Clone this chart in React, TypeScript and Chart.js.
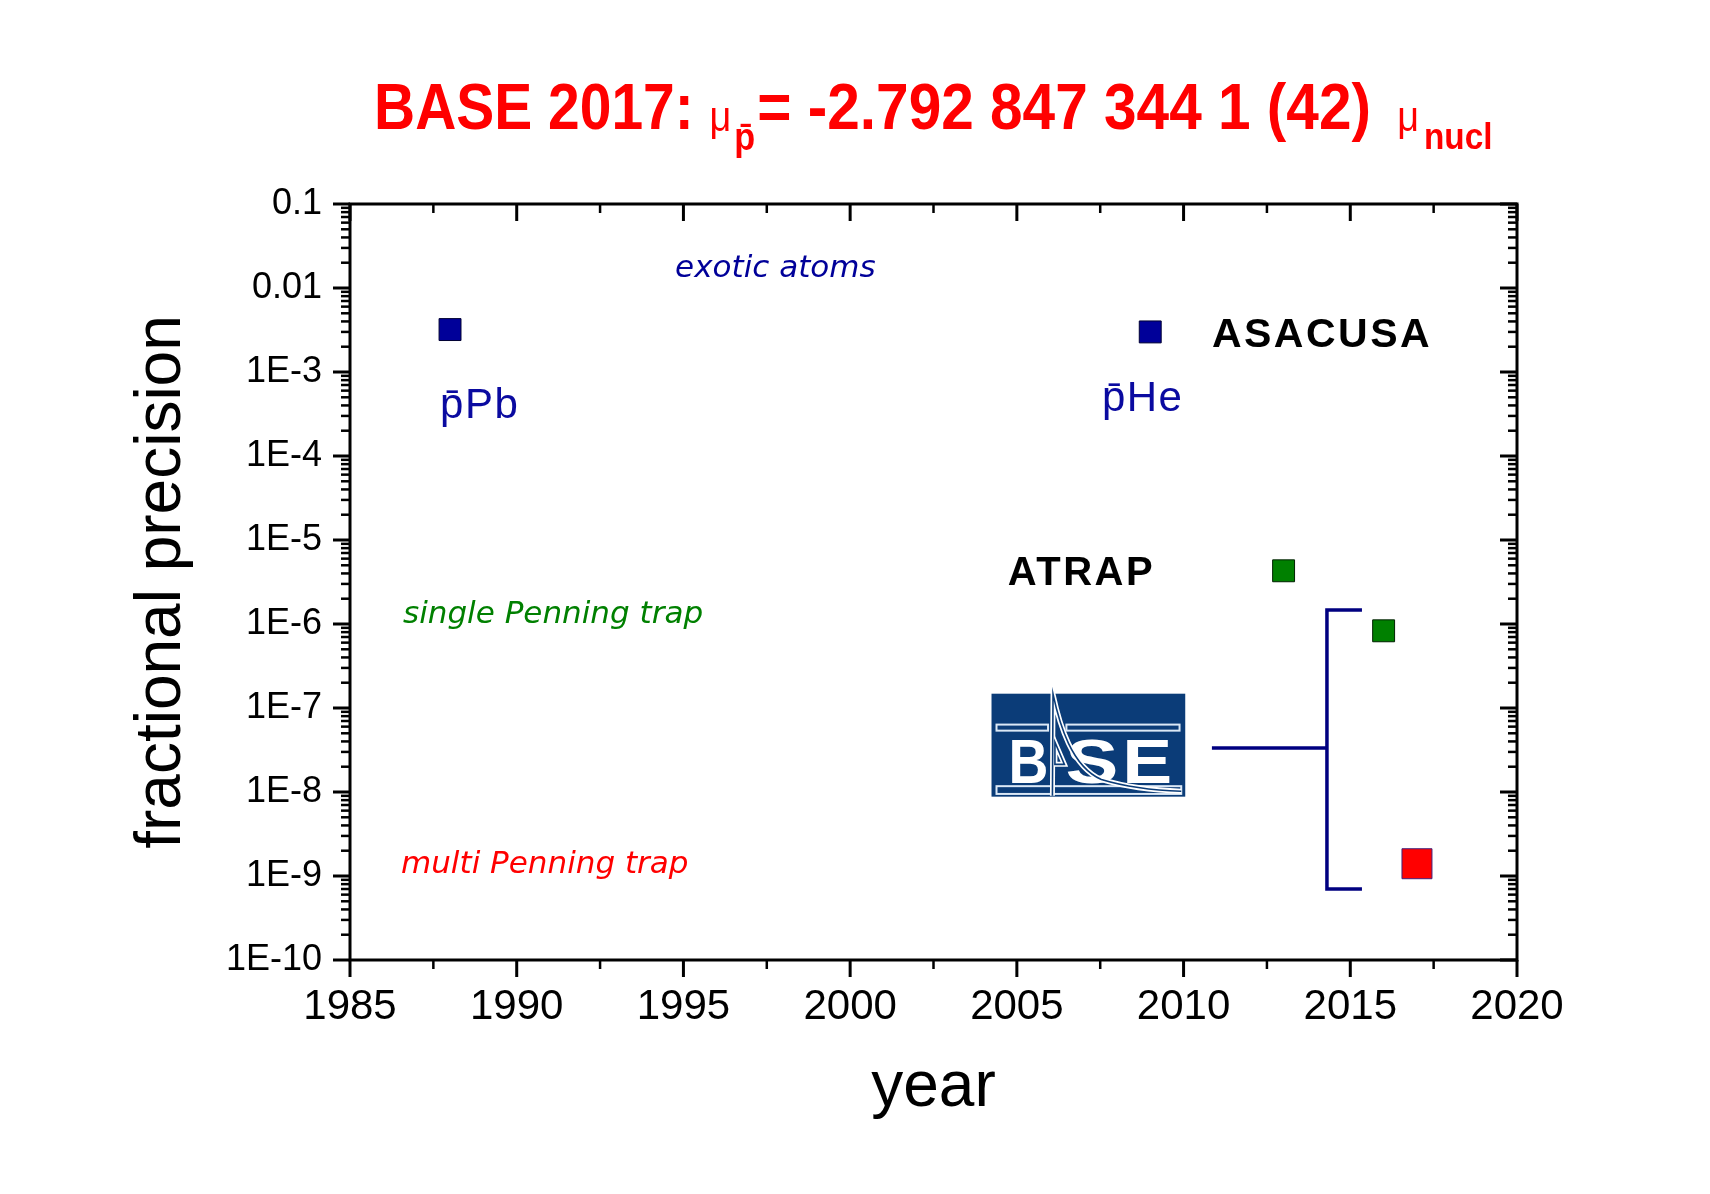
import { useEffect, useRef } from "react"
import { Chart, registerables } from "chart.js"

Chart.register(...registerables)

// axis ticks
const xTicks = [1985, 1990, 1995, 2000, 2005, 2010, 2015, 2020]
const yTicks = [1e-10, 1e-9, 1e-8, 1e-7, 1e-6, 1e-5, 1e-4, 1e-3, 1e-2, 1e-1]
const yTickLabels = ["1E-10", "1E-9", "1E-8", "1E-7", "1E-6", "1E-5", "1E-4", "1E-3", "0.01", "0.1"]

// measurements (year, fractional precision)
const exoticYears = [1988, 2009]
const exoticPrecision = [3.2e-3, 3.0e-3]
const singleTrapYears = [2013, 2016]
const singleTrapPrecision = [4.3e-6, 8.3e-7]
const multiTrapYears = [2017]
const multiTrapPrecision = [1.4e-9]

// bracket grouping the BASE results and the line to the logo
const bracketYears = [2015.35, 2014.3, 2014.3, 2015.35]
const bracketPrecision = [1.47e-6, 1.47e-6, 7.0e-10, 7.0e-10]
const connectorYears = [2010.85, 2014.3]
const connectorPrecision = [3.35e-8, 3.35e-8]

// logo corners (year, precision)
const logoYears = [2004.24, 2010.05]
const logoPrecision = [1.48e-7, 8.8e-9]

const SANS = "'Liberation Sans', Arial, sans-serif"
const ITALIC = "italic 31px 'DejaVu Sans', Verdana, sans-serif"

const notes = [
  { text: "exotic atoms", x: 1994.75, y: 1.35e-2, color: "#000099", font: ITALIC, spacing: 0 },
  { text: "single Penning trap", x: 1986.59, y: 1.03e-6, color: "#008000", font: ITALIC, spacing: 0 },
  { text: "multi Penning trap", x: 1986.53, y: 1.09e-9, color: "#ff0000", font: ITALIC, spacing: 0 },
  { text: "p\u0304Pb", x: 1987.7, y: 2.83e-4, color: "#0a0aa0", font: `42px ${SANS}`, spacing: 1.5 },
  { text: "p\u0304He", x: 2007.55, y: 3.43e-4, color: "#0a0aa0", font: `42px ${SANS}`, spacing: 1.5 },
  { text: "ASACUSA", x: 2010.85, y: 1.99e-3, color: "#000000", font: `bold 41px ${SANS}`, spacing: 2.5 },
  { text: "ATRAP", x: 2004.73, y: 2.91e-6, color: "#000000", font: `bold 40px ${SANS}`, spacing: 2.5 },
]

const toPoints = (xs: number[], ys: number[]) => xs.map((x, i) => ({ x, y: ys[i] }))

// frame with inner/outer ticks like the original plot
const framePlugin = {
  id: "frame",
  afterDatasetsDraw(chart: Chart) {
    const { ctx, chartArea } = chart
    const { left, right, top, bottom } = chartArea
    const xs = chart.scales.x
    const ys = chart.scales.y
    ctx.save()
    ctx.strokeStyle = "#000"
    ctx.lineCap = "butt"
    const line = (x1: number, y1: number, x2: number, y2: number, w: number) => {
      ctx.lineWidth = w
      ctx.beginPath()
      ctx.moveTo(x1, y1)
      ctx.lineTo(x2, y2)
      ctx.stroke()
    }
    for (let v = 1985; v <= 2020; v += 2.5) {
      const px = xs.getPixelForValue(v)
      const major = v % 5 === 0
      const len = major ? 17 : 9
      const w = major ? 3 : 2.5
      line(px, bottom, px, bottom + len, w)
      line(px, top, px, top + len, w)
    }
    for (let d = -10; d <= -1; d++) {
      for (let m = 1; m <= 9; m++) {
        const v = m * Math.pow(10, d)
        if (v > 0.1 + 1e-12) break
        const py = ys.getPixelForValue(v)
        const len = m === 1 ? 17 : 9
        const w = m === 1 ? 3 : 2.5
        line(left - len, py, left, py, w)
        line(right - len, py, right, py, w)
      }
    }
    ctx.lineWidth = 3
    ctx.strokeRect(left, top, right - left, bottom - top)
    ctx.restore()
  },
}

const drawLogo = (chart: Chart) => {
  const { ctx } = chart
  const xs = chart.scales.x
  const ys = chart.scales.y
  const L = xs.getPixelForValue(logoYears[0])
  const R = xs.getPixelForValue(logoYears[1])
  const T = ys.getPixelForValue(logoPrecision[0])
  const B = ys.getPixelForValue(logoPrecision[1])
  const fx = (r: number) => L + (r * (R - L)) / 194
  const fy = (r: number) => T + (r * (B - T)) / 102
  const blue = "#0b3c78"
  ctx.save()
  ctx.fillStyle = blue
  ctx.fillRect(L, T, R - L, B - T)

  // bars
  ctx.strokeStyle = "#dbe8f6"
  ctx.lineWidth = 2
  ctx.strokeRect(fx(5), fy(30.6), fx(56.6) - fx(5), fy(36.6) - fy(30.6))
  ctx.strokeRect(fx(75), fy(30.6), fx(188.3) - fx(75), fy(36.6) - fy(30.6))
  ctx.strokeRect(fx(5), fy(91.6), fx(190) - fx(5), fy(99.3) - fy(91.6))

  // letters
  const letter = (t: string, r0: number, r1: number) => {
    ctx.save()
    ctx.font = `bold 63px ${SANS}`
    const mw = ctx.measureText(t).width
    ctx.translate(fx(r0), fy(88.3))
    ctx.scale((fx(r1) - fx(r0)) / mw, (fy(88.3) - fy(43.3)) / 45)
    ctx.fillStyle = "#ffffff"
    ctx.fillText(t, 0, 0)
    ctx.restore()
  }
  letter("B", 17, 57)
  letter("S", 74, 127)
  letter("E", 131, 181)

  // resonance peak forming the A
  const peak = () => {
    ctx.beginPath()
    ctx.moveTo(fx(61), fy(101))
    ctx.lineTo(fx(61.6), fy(0.5))
    ctx.bezierCurveTo(fx(68), fy(30), fx(80), fy(72), fx(110), fy(85))
    ctx.bezierCurveTo(fx(140), fy(94), fx(170), fy(96), fx(190), fy(96.6))
    ctx.stroke()
    ctx.beginPath()
    ctx.moveTo(fx(63.5), fy(48))
    ctx.lineTo(fx(63.5), fy(70))
    ctx.lineTo(fx(73), fy(70))
    ctx.closePath()
    ctx.stroke()
  }
  ctx.strokeStyle = "#ffffff"
  ctx.lineWidth = 5
  peak()
  ctx.strokeStyle = blue
  ctx.lineWidth = 1.6
  peak()
  ctx.restore()
}

const drawTitle = (chart: Chart) => {
  const { ctx } = chart
  const base = 129
  let x = 374
  ctx.save()
  ctx.fillStyle = "#ff0000"
  ctx.textBaseline = "alphabetic"
  ctx.textAlign = "left"
  const piece = (text: string, font: string, dy: number, gap = 0, sx = 0.9) => {
    x += gap
    ctx.save()
    ctx.font = font
    const w = ctx.measureText(text).width * sx
    ctx.translate(x, base + dy)
    ctx.scale(sx, 1)
    ctx.fillText(text, 0, 0)
    ctx.restore()
    x += w
  }
  piece("BASE 2017: ", `bold 64px ${SANS}`, 0, 0, 0.89)
  piece("\u03bc", `42px ${SANS}`, 2)
  piece("p\u0304", `bold 38px ${SANS}`, 21, 3)
  piece("= -2.792 847 344 1 (42) ", `bold 64px ${SANS}`, 0, 2, 0.915)
  piece("\u03bc", `42px ${SANS}`, 2, 10)
  piece("nucl", `bold 37px ${SANS}`, 20, 5)
  ctx.restore()
}

const textPlugin = {
  id: "texts",
  afterDraw(chart: Chart) {
    const { ctx } = chart
    const xs = chart.scales.x
    const ys = chart.scales.y
    drawLogo(chart)
    ctx.save()
    ctx.textBaseline = "alphabetic"
    ctx.textAlign = "left"
    for (const n of notes) {
      ctx.font = n.font
      ctx.fillStyle = n.color
      ;(ctx as any).letterSpacing = `${n.spacing}px`
      ctx.fillText(n.text, xs.getPixelForValue(n.x), ys.getPixelForValue(n.y))
    }
    ;(ctx as any).letterSpacing = "0px"
    ctx.restore()
    drawTitle(chart)
  },
}

export default function App() {
  const chartRef = useRef<HTMLCanvasElement>(null)
  const chartInstance = useRef<Chart | null>(null)

  useEffect(() => {
    document.body.style.margin = "0"
    if (!chartRef.current) return
    if (chartInstance.current) chartInstance.current.destroy()
    const ctx = chartRef.current.getContext("2d")
    if (!ctx) return

    chartInstance.current = new Chart(ctx, {
      type: "scatter",
      data: {
        datasets: [
          {
            label: "exotic atoms",
            data: toPoints(exoticYears, exoticPrecision),
            pointStyle: "rect",
            pointRadius: 15.5,
            backgroundColor: "#000099",
            borderColor: "#000033",
            borderWidth: 1,
          },
          {
            label: "single Penning trap",
            data: toPoints(singleTrapYears, singleTrapPrecision),
            pointStyle: "rect",
            pointRadius: 15.5,
            backgroundColor: "#008000",
            borderColor: "#002200",
            borderWidth: 1,
          },
          {
            label: "multi Penning trap",
            data: toPoints(multiTrapYears, multiTrapPrecision),
            pointStyle: "rect",
            pointRadius: 21.2,
            backgroundColor: "#ff0000",
            borderColor: "#40207a",
            borderWidth: 1,
          },
          {
            label: "bracket",
            data: toPoints(bracketYears, bracketPrecision),
            showLine: true,
            pointRadius: 0,
            borderColor: "#000080",
            borderWidth: 3.5,
            fill: false,
          },
          {
            label: "connector",
            data: toPoints(connectorYears, connectorPrecision),
            showLine: true,
            pointRadius: 0,
            borderColor: "#000080",
            borderWidth: 3.5,
            fill: false,
          },
        ],
      },
      options: {
        responsive: false,
        animation: false,
        layout: { padding: { top: 204, right: 193, bottom: 0, left: 0 } },
        plugins: {
          legend: { display: false },
          tooltip: { enabled: false },
        },
        scales: {
          x: {
            type: "linear",
            min: 1985,
            max: 2020,
            afterBuildTicks: (s: any) => {
              s.ticks = xTicks.map((v) => ({ value: v }))
            },
            afterFit: (s: any) => {
              s.height = 234
            },
            grid: { display: false, drawTicks: false },
            border: { display: false },
            ticks: {
              padding: 22,
              autoSkip: false,
              maxRotation: 0,
              color: "#000",
              font: { family: SANS, size: 42 },
              callback: (v: any) => String(v),
            },
            title: {
              display: true,
              text: "year",
              color: "#000",
              font: { family: SANS, size: 64, lineHeight: 1 },
              padding: { top: 0, bottom: 74 },
            },
          },
          y: {
            type: "logarithmic",
            min: 1e-10,
            max: 0.1,
            afterBuildTicks: (s: any) => {
              s.ticks = yTicks.map((v) => ({ value: v }))
            },
            afterFit: (s: any) => {
              s.width = 350
            },
            grid: { display: false, drawTicks: false },
            border: { display: false },
            ticks: {
              padding: 28,
              autoSkip: false,
              color: "#000",
              font: { family: SANS, size: 36 },
              callback: (_v: any, i: number) => yTickLabels[i],
            },
            title: {
              display: true,
              text: "fractional precision",
              color: "#000",
              font: { family: SANS, size: 64, lineHeight: 1 },
              padding: { top: 130, bottom: 0 },
            },
          },
        },
      },
      plugins: [framePlugin, textPlugin],
    })

    return () => {
      if (chartInstance.current) {
        chartInstance.current.destroy()
        chartInstance.current = null
      }
    }
  }, [])

  return (
    <div style={{ width: 1710, height: 1194, background: "#fff" }}>
      <canvas ref={chartRef} width={1710} height={1194} style={{ display: "block" }} />
    </div>
  )
}
